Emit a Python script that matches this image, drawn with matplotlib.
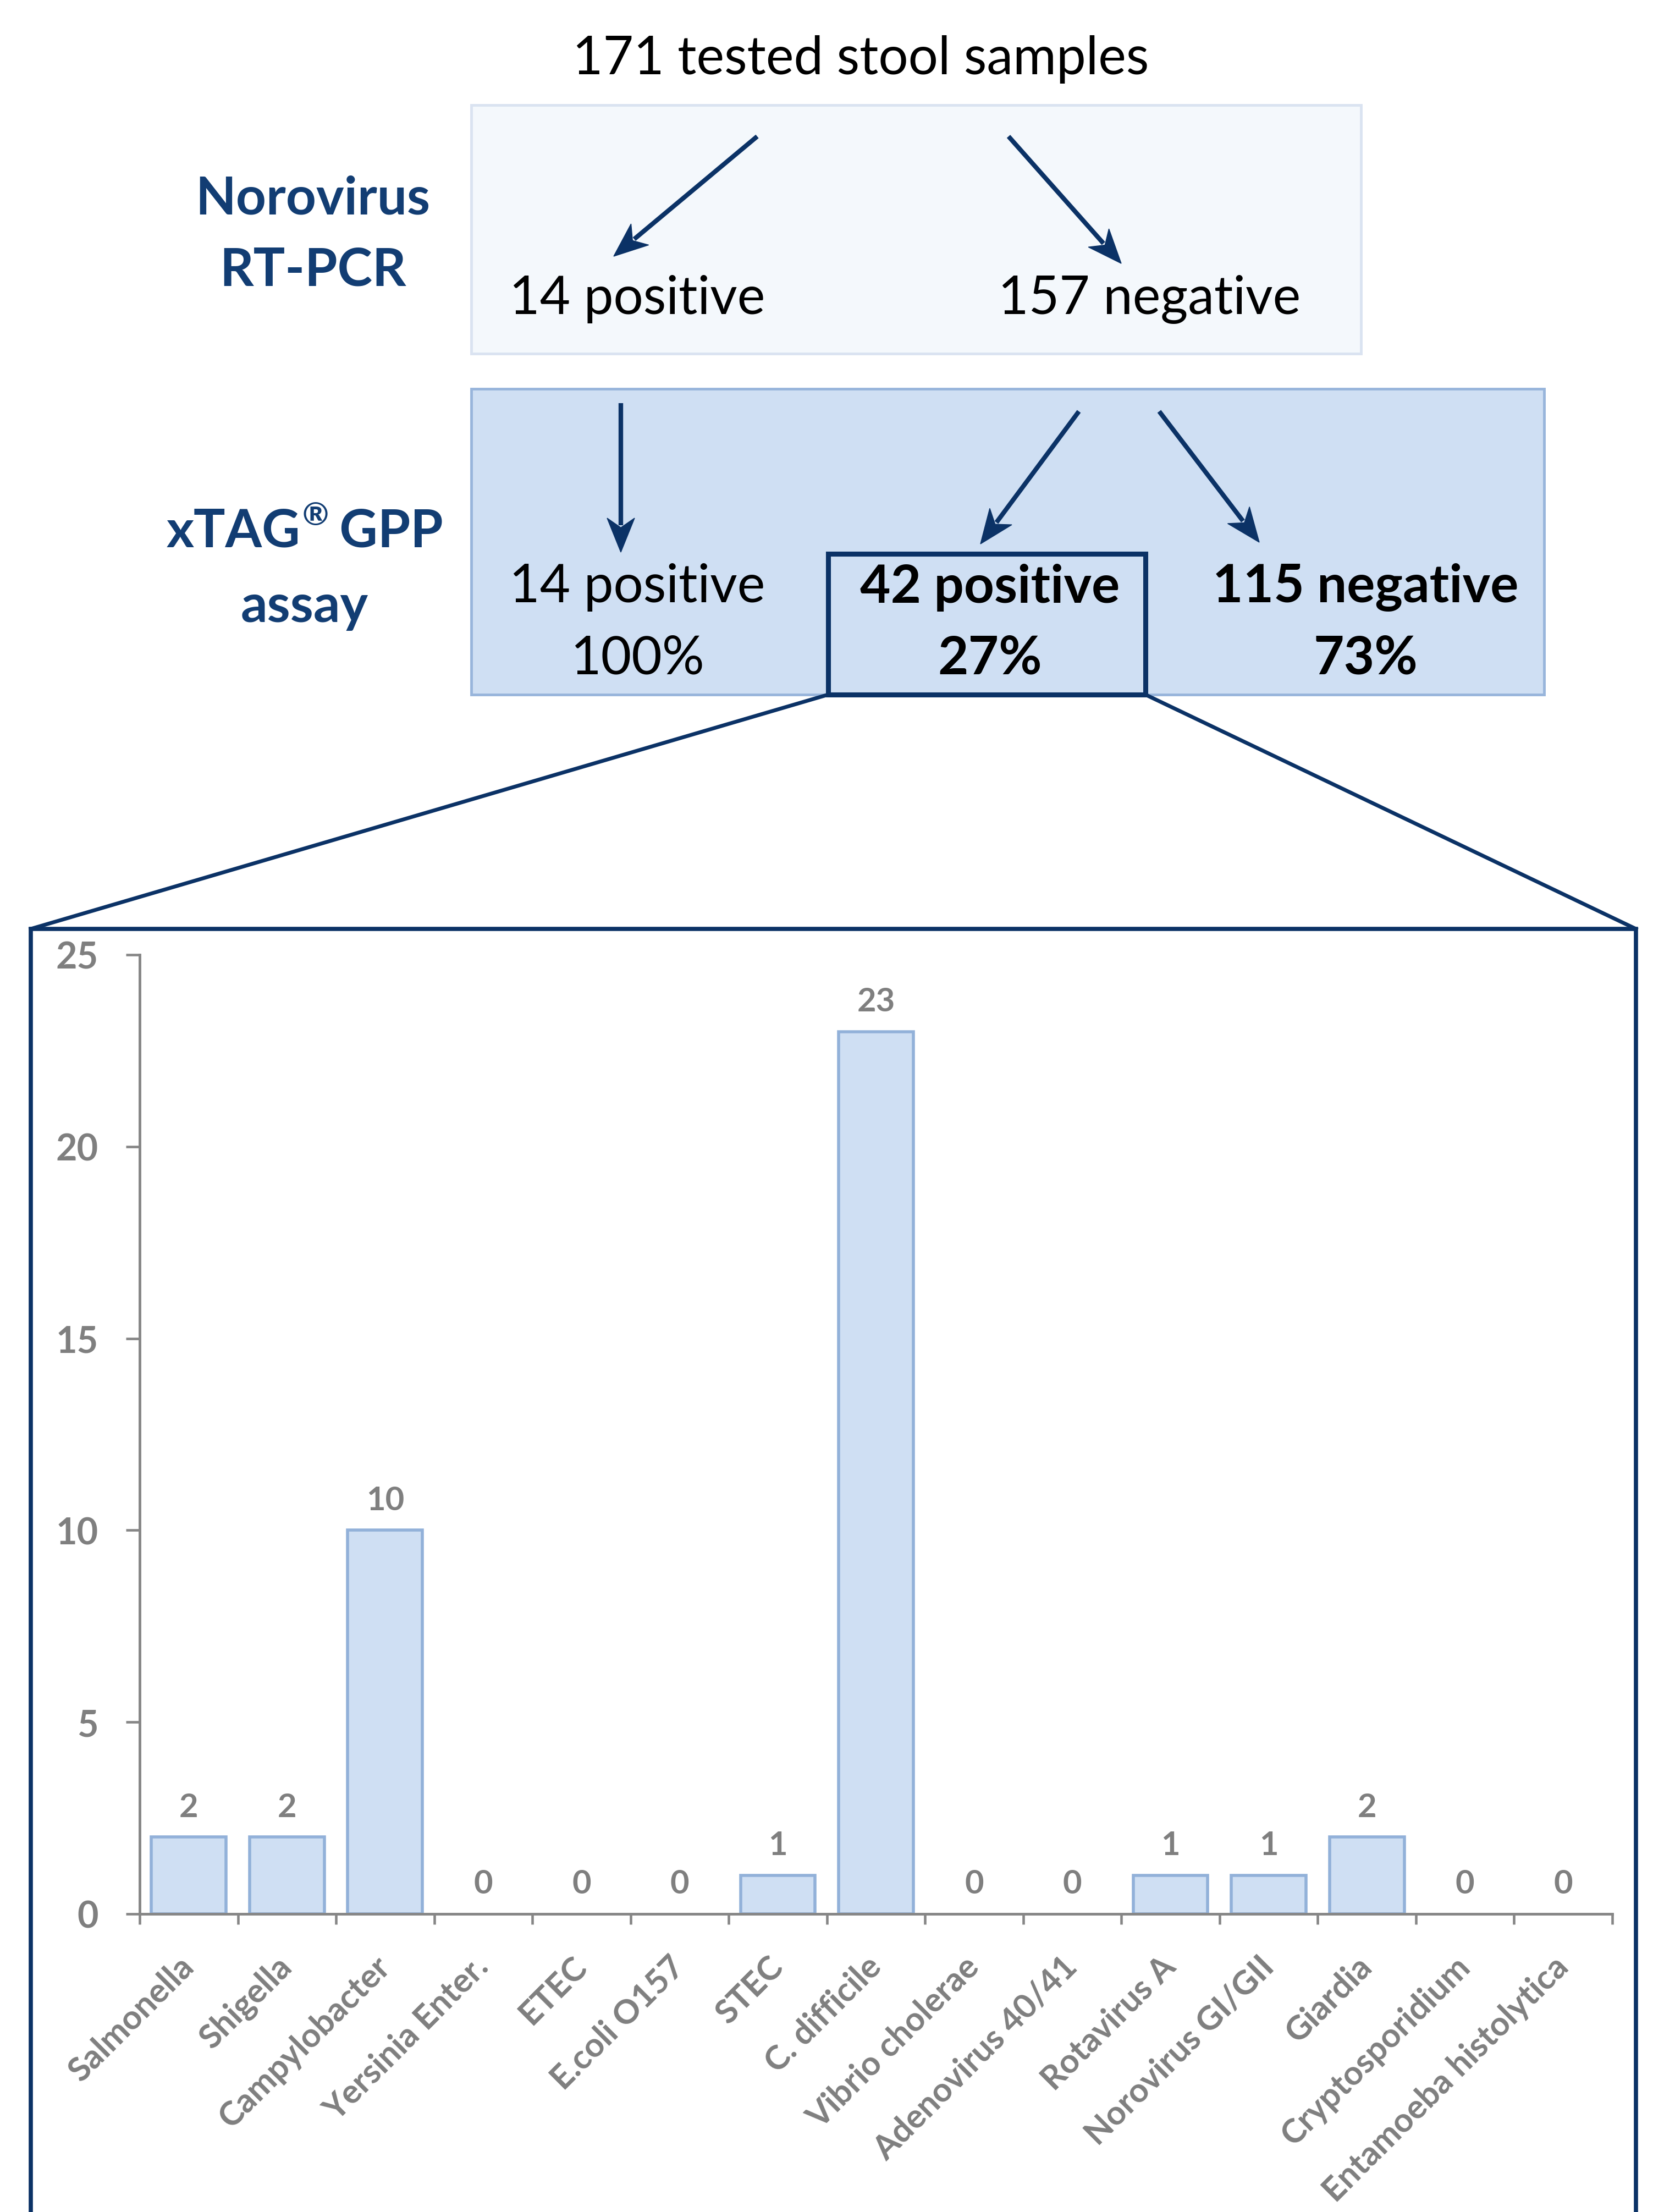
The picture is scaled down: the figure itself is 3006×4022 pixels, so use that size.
import matplotlib
matplotlib.use('Agg')
import matplotlib.pyplot as plt
from matplotlib.patches import Rectangle, Polygon
from matplotlib.lines import Line2D
import numpy as np

# ---------------- data ----------------
pathogens = ["Salmonella", "Shigella", "Campylobacter", "Yersinia Enter.", "ETEC",
             "E.coli O157", "STEC", "C. difficile", "Vibrio cholerae",
             "Adenovirus 40/41", "Rotavirus A", "Norovirus GI/GII", "Giardia",
             "Cryptosporidium", "Entamoeba histolytica"]
counts = [2, 2, 10, 0, 0, 0, 1, 23, 0, 0, 1, 1, 2, 0, 0]
y_ticks = [0, 5, 10, 15, 20, 25]

total_samples = 171
rtpcr_counts = [14, 157]
rtpcr_labels = ["positive", "negative"]
gpp_counts = [14, 42, 115]
gpp_labels = ["positive", "positive", "negative"]
gpp_percent = [100, 27, 73]
stage1_lines = ["Norovirus", "RT-PCR"]
stage2_lines = ["xTAG", "\u00ae", " GPP", "assay"]

# ---------------- style ----------------
W, H = 3006, 4023
DPI = 100
NAVY = '#0B3266'
LABEL_NAVY = '#123D73'
GRAY = '#7F7F7F'
AXGRAY = '#868686'
FONT = ['Lato', 'DejaVu Sans']
plt.rcParams['font.family'] = FONT

fig = plt.figure(figsize=(W / DPI, H / DPI), dpi=DPI)
ov = fig.add_axes([0, 0, 1, 1])
ov.set_xlim(0, W)
ov.set_ylim(H, 0)
ov.axis('off')

# boxes
ov.add_patch(Rectangle((857, 192), 2475 - 857, 644 - 192, facecolor='#F4F8FC',
                       edgecolor='#DAE3F1', lw=3.5, zorder=1))
ov.add_patch(Rectangle((857, 708), 2808 - 857, 1264 - 708, facecolor='#CFDFF3',
                       edgecolor='#98B5DB', lw=3.5, zorder=1))
ov.add_patch(Rectangle((1506, 1008), 2083 - 1506, 1264 - 1008, facecolor='none',
                       edgecolor=NAVY, lw=6.5, zorder=3))

# zoom lines and frame
ov.add_line(Line2D([1506, 56], [1264, 1690], color=NAVY, lw=5, zorder=3))
ov.add_line(Line2D([2083, 2975], [1264, 1690], color=NAVY, lw=5, zorder=3))
ov.add_line(Line2D([56, 56, 2975, 2975], [H + 50, 1690, 1690, H + 50], color=NAVY,
                   lw=5.5, zorder=3, solid_joinstyle='miter'))

FS = 69
# title
ov.text(1565, 108, f"{total_samples} tested stool samples", ha='center', va='center',
        fontsize=FS, color='black')

# stage labels
ov.text(569, 362, stage1_lines[0], ha='center', va='center', fontsize=FS,
        fontweight='bold', color=LABEL_NAVY)
ov.text(569, 492, stage1_lines[1], ha='center', va='center', fontsize=FS,
        fontweight='bold', color=LABEL_NAVY)
ov.text(554, 1103, stage2_lines[3], ha='center', va='center', fontsize=FS,
        fontweight='bold', color=LABEL_NAVY)

# xTAG(R) GPP composed line
ta = ov.text(0, 967, stage2_lines[0], ha='left', va='center', fontsize=FS,
             fontweight='bold', color=LABEL_NAVY)
tb = ov.text(0, 938, stage2_lines[1], ha='left', va='center', fontsize=42,
             fontweight='bold', color=LABEL_NAVY)
tc = ov.text(0, 967, stage2_lines[2], ha='left', va='center', fontsize=FS,
             fontweight='bold', color=LABEL_NAVY)
fig.canvas.draw()
r = fig.canvas.get_renderer()
wa = ta.get_window_extent(r).width
wb = tb.get_window_extent(r).width
wc = tc.get_window_extent(r).width
x0 = 554 - (wa + wb + wc) / 2
ta.set_x(x0)
tb.set_x(x0 + wa + 3)
tc.set_x(x0 + wa + wb)

# row 1 texts
ov.text(1159, 544, f"{rtpcr_counts[0]} {rtpcr_labels[0]}", ha='center', va='center',
        fontsize=FS, color='black')
ov.text(2090, 544, f"{rtpcr_counts[1]} {rtpcr_labels[1]}", ha='center', va='center',
        fontsize=FS, color='black')

# row 2 texts
row2_x = [1159, 1800, 2483]
row2_w = ['normal', 'bold', 'bold']
for xx, c, lab, p, wt in zip(row2_x, gpp_counts, gpp_labels, gpp_percent, row2_w):
    ov.text(xx, 1068, f"{c} {lab}", ha='center', va='center', fontsize=FS,
            fontweight=wt, color='black', zorder=4)
    ov.text(xx, 1198, f"{p}%", ha='center', va='center', fontsize=FS,
            fontweight=wt, color='black', zorder=4)

# stealth-style arrows (pixel coordinates of the overlay)
def arrow(p0, p1, L=62, Wd=50):
    p0 = np.array(p0, float)
    p1 = np.array(p1, float)
    d = (p1 - p0) / np.linalg.norm(p1 - p0)
    n = np.array([-d[1], d[0]])
    back = p1 - L * d
    notch = p1 - 0.72 * L * d
    ov.add_line(Line2D([p0[0], notch[0] - 4 * d[0]], [p0[1], notch[1] - 4 * d[1]],
                       color=NAVY, lw=6, solid_capstyle='butt', zorder=4))
    ov.add_patch(Polygon([p1, back + n * Wd / 2, notch, back - n * Wd / 2],
                         closed=True, facecolor=NAVY, edgecolor=NAVY, lw=1, zorder=4))

arrow((1377, 249), (1116, 467))
arrow((1834, 249), (2039, 480))
arrow((1129, 734), (1129, 1005))
arrow((1962, 749), (1783, 990))
arrow((2108, 749), (2290, 987))

# ---------------- bar chart ----------------
ax = fig.add_axes([254 / W, 1 - 3481 / H, (2932 - 254) / W, (3481 - 1737) / H])
ax.patch.set_alpha(0)
x = np.arange(len(counts))
edge_w = [4 if c > 0 else 0 for c in counts]
bars = ax.bar(x, counts, width=0.76, color='#CFDFF3', edgecolor='#92B1D9',
              linewidth=edge_w, zorder=2)
ax.set_xlim(-0.5, len(counts) - 0.5)
ax.set_ylim(0, 25)
ax.set_yticks(y_ticks)
ax.set_yticklabels([str(v) for v in y_ticks], fontsize=48, fontweight='bold', color=GRAY)
ax.set_xticks(x)
ax.set_xticklabels(pathogens, rotation=45, ha='right', va='center', rotation_mode='anchor',
                   fontsize=44, fontweight='bold', color=GRAY)
ax.tick_params(axis='x', which='major', length=0, pad=62)
ax.set_xticks(np.arange(-0.5, len(counts)), minor=True)
ax.tick_params(axis='x', which='minor', length=14, width=3.3, color=AXGRAY,
               direction='out')
ax.tick_params(axis='y', which='major', length=18, width=3.3, color=AXGRAY,
               direction='out', pad=36)
for s in ['top', 'right']:
    ax.spines[s].set_visible(False)
for s in ['left', 'bottom']:
    ax.spines[s].set_color(AXGRAY)
    ax.spines[s].set_linewidth(3.5)
    ax.spines[s].set_zorder(3)
ax.bar_label(bars, labels=[str(c) for c in counts], padding=20, fontsize=43,
             fontweight='bold', color=GRAY)

fig.savefig('out.png', dpi=DPI)
